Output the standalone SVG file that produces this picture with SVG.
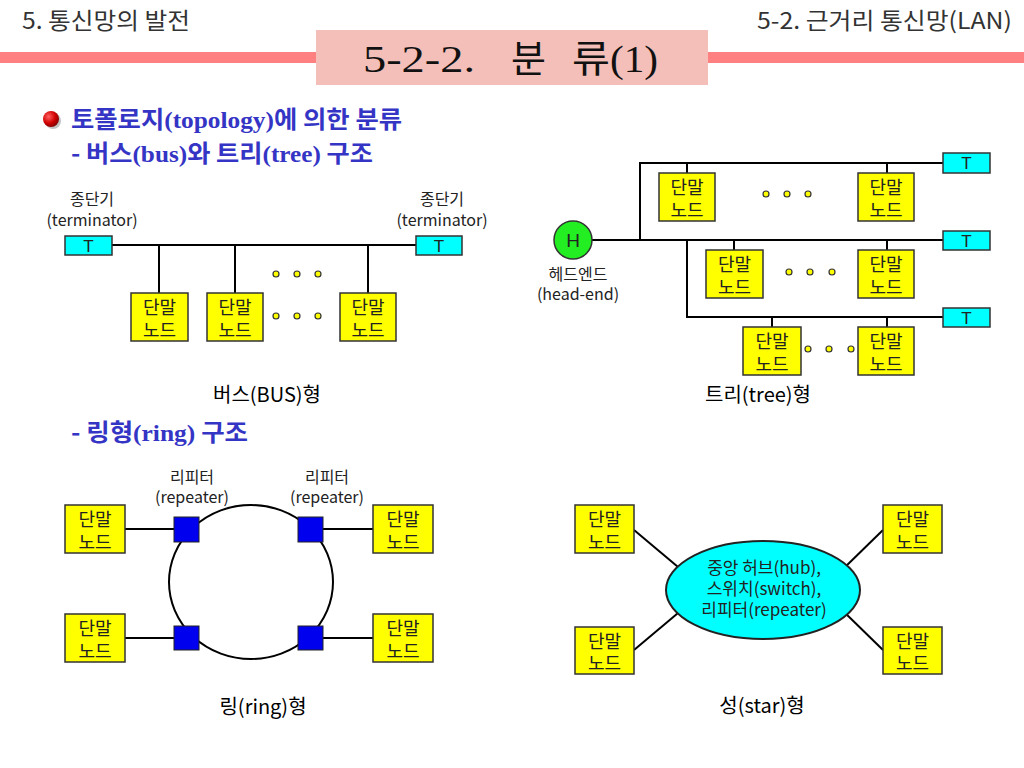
<svg xmlns="http://www.w3.org/2000/svg" width="1024" height="768" viewBox="0 0 1024 768">
<defs>
<style>
.hdr{font-family:"Noto Sans CJK KR","Liberation Sans",sans-serif;font-size:23px;fill:#333;}
.head{font-family:"Noto Sans CJK KR","Liberation Sans",sans-serif;font-size:24px;font-weight:bold;fill:#3535C5;}
.ser{font-family:"Liberation Serif","Noto Sans CJK KR",serif;font-weight:bold;}
.lbl{font-family:"Noto Sans CJK KR","Liberation Sans",sans-serif;font-size:16px;fill:#222;text-anchor:middle;}
.hub{font-family:"Noto Sans CJK KR","Liberation Sans",sans-serif;font-size:17px;fill:#222;text-anchor:middle;}
.cap{font-family:"Noto Sans CJK KR","Liberation Sans",sans-serif;font-size:20px;fill:#000;text-anchor:middle;}
.nt{font-family:"Noto Sans CJK KR","Liberation Sans",sans-serif;font-size:18px;fill:#222;text-anchor:middle;}
.node{fill:#FFFF00;stroke:#333;stroke-width:1.5;}
.term{fill:#00FFFF;stroke:#333;stroke-width:1.5;}
.tt{font-family:"Liberation Sans","Noto Sans",sans-serif;font-size:17px;fill:#222;text-anchor:middle;}
.ht{font-family:"Liberation Sans","Noto Sans",sans-serif;font-size:19px;fill:#222;text-anchor:middle;}
.ln{stroke:#000;stroke-width:2;fill:none;}
.dot{fill:#FFFF00;stroke:#333;stroke-width:1.2;}
.rep{fill:#0000EE;stroke:#222;stroke-width:1;}
.ttl{font-family:"Liberation Serif","Noto Sans CJK KR",serif;font-size:38px;fill:#111;}
</style>
<radialGradient id="ball" cx="0.35" cy="0.35" r="0.7">
<stop offset="0" stop-color="#FF6060"/>
<stop offset="0.6" stop-color="#D00000"/>
<stop offset="1" stop-color="#800000"/>
</radialGradient>
</defs>
<rect width="1024" height="768" fill="#fff"/>

<g id="header">
<text class="hdr" x="22" y="29" textLength="168" lengthAdjust="spacingAndGlyphs">5. 통신망의 발전</text>
<text class="hdr" x="1012" y="29" text-anchor="end" textLength="255" lengthAdjust="spacingAndGlyphs">5-2. 근거리 통신망(LAN)</text>
<rect x="0" y="52" width="316" height="11" fill="#FF8080"/>
<rect x="708" y="52" width="316" height="11" fill="#FF8080"/>
<rect x="316" y="30" width="392" height="55" fill="#F3BFB8"/>
<text class="ttl" y="72"><tspan x="363" textLength="112" lengthAdjust="spacingAndGlyphs">5-2-2.</tspan> <tspan x="511">분</tspan> <tspan x="572" textLength="86" lengthAdjust="spacingAndGlyphs">류(1)</tspan></text>
</g>

<g id="headings">
<circle cx="53" cy="121" r="8" fill="#999" opacity="0.6"/>
<circle cx="51" cy="119" r="8" fill="url(#ball)"/>
<text class="head" x="71" y="128" textLength="331" lengthAdjust="spacingAndGlyphs">토폴로지<tspan class="ser">(topology)</tspan>에 의한 분류</text>
<text class="head" x="71" y="162" textLength="302" lengthAdjust="spacingAndGlyphs">- 버스<tspan class="ser">(bus)</tspan>와 트리<tspan class="ser">(tree)</tspan> 구조</text>
<text class="head" x="71" y="441" textLength="177" lengthAdjust="spacingAndGlyphs">- 링형<tspan class="ser">(ring)</tspan> 구조</text>
</g>

<g id="connectors">
<!-- bus -->
<line class="ln" x1="112" y1="245" x2="416" y2="245"/>
<line class="ln" x1="159" y1="245" x2="159" y2="293"/>
<line class="ln" x1="235" y1="245" x2="235" y2="293"/>
<line class="ln" x1="368" y1="245" x2="368" y2="293"/>
<!-- tree -->
<line class="ln" x1="592" y1="240" x2="943" y2="240"/>
<polyline class="ln" points="640,240 640,163 943,163"/>
<polyline class="ln" points="687,240 687,317 943,317"/>
<line class="ln" x1="687" y1="163" x2="687" y2="173"/>
<line class="ln" x1="887" y1="163" x2="887" y2="173"/>
<line class="ln" x1="734" y1="240" x2="734" y2="250"/>
<line class="ln" x1="887" y1="240" x2="887" y2="250"/>
<line class="ln" x1="772" y1="317" x2="772" y2="327"/>
<line class="ln" x1="887" y1="317" x2="887" y2="327"/>
<!-- ring -->
<ellipse class="ln" cx="251" cy="582" rx="82" ry="77"/>
<line class="ln" x1="125" y1="529" x2="174" y2="529"/>
<line class="ln" x1="125" y1="638" x2="174" y2="638"/>
<line class="ln" x1="323" y1="529" x2="373" y2="529"/>
<line class="ln" x1="323" y1="638" x2="373" y2="638"/>
<!-- star -->
<line class="ln" x1="634" y1="530" x2="684" y2="572"/>
<line class="ln" x1="634" y1="650" x2="684" y2="608"/>
<line class="ln" x1="883" y1="530" x2="842" y2="570"/>
<line class="ln" x1="883" y1="650" x2="842" y2="610"/>
</g>

<g id="bus">
<text class="lbl" x="92" y="205">종단기</text>
<text class="lbl" x="92" y="226">(terminator)</text>
<text class="lbl" x="442" y="205">종단기</text>
<text class="lbl" x="442" y="226">(terminator)</text>
<g id="bus-t1"><rect class="term" x="65" y="236" width="47" height="19"/><text class="tt" x="88.5" y="252">T</text></g>
<g id="bus-t2"><rect class="term" x="416" y="236" width="46" height="19"/><text class="tt" x="439" y="252">T</text></g>
<g id="bus-n1"><rect class="node" x="131" y="293" width="57" height="48"/><text class="nt" x="159.5" y="314">단말</text><text class="nt" x="159.5" y="337">노드</text></g>
<g id="bus-n2"><rect class="node" x="207" y="293" width="56" height="48"/><text class="nt" x="235" y="314">단말</text><text class="nt" x="235" y="337">노드</text></g>
<g id="bus-n3"><rect class="node" x="340" y="293" width="56" height="48"/><text class="nt" x="368" y="314">단말</text><text class="nt" x="368" y="337">노드</text></g>
<circle class="dot" cx="276" cy="274" r="3"/><circle class="dot" cx="297" cy="274" r="3"/><circle class="dot" cx="318" cy="274" r="3"/>
<circle class="dot" cx="276" cy="316" r="3"/><circle class="dot" cx="297" cy="316" r="3"/><circle class="dot" cx="318" cy="316" r="3"/>
<text class="cap" x="267" y="402">버스(BUS)형</text>
</g>

<g id="tree">
<g id="tree-h"><circle cx="573" cy="240" r="19" fill="#22EE22" stroke="#333" stroke-width="1.5"/><text class="ht" x="573" y="247">H</text></g>
<text class="lbl" x="578" y="280">헤드엔드</text>
<text class="lbl" x="578" y="300">(head-end)</text>
<g id="tree-t1"><rect class="term" x="943" y="153" width="47" height="20"/><text class="tt" x="966.5" y="169">T</text></g>
<g id="tree-t2"><rect class="term" x="943" y="231" width="47" height="19"/><text class="tt" x="966.5" y="247">T</text></g>
<g id="tree-t3"><rect class="term" x="943" y="308" width="47" height="19"/><text class="tt" x="966.5" y="324">T</text></g>
<g id="tree-n11"><rect class="node" x="659" y="173" width="56" height="48"/><text class="nt" x="687" y="194">단말</text><text class="nt" x="687" y="217">노드</text></g>
<g id="tree-n12"><rect class="node" x="858" y="173" width="56" height="48"/><text class="nt" x="886" y="194">단말</text><text class="nt" x="886" y="217">노드</text></g>
<g id="tree-n21"><rect class="node" x="706" y="250" width="57" height="48"/><text class="nt" x="734.5" y="271">단말</text><text class="nt" x="734.5" y="294">노드</text></g>
<g id="tree-n22"><rect class="node" x="858" y="250" width="56" height="48"/><text class="nt" x="886" y="271">단말</text><text class="nt" x="886" y="294">노드</text></g>
<g id="tree-n31"><rect class="node" x="743" y="327" width="58" height="48"/><text class="nt" x="772" y="348">단말</text><text class="nt" x="772" y="371">노드</text></g>
<g id="tree-n32"><rect class="node" x="858" y="327" width="56" height="48"/><text class="nt" x="886" y="348">단말</text><text class="nt" x="886" y="371">노드</text></g>
<circle class="dot" cx="766" cy="194" r="3"/><circle class="dot" cx="787" cy="194" r="3"/><circle class="dot" cx="808" cy="194" r="3"/>
<circle class="dot" cx="789" cy="272" r="3"/><circle class="dot" cx="810" cy="272" r="3"/><circle class="dot" cx="832" cy="272" r="3"/>
<circle class="dot" cx="808" cy="349" r="3"/><circle class="dot" cx="829" cy="349" r="3"/><circle class="dot" cx="851" cy="349" r="3"/>
<text class="cap" x="758" y="402">트리(tree)형</text>
</g>

<g id="ring">
<text class="lbl" x="192" y="483">리피터</text>
<text class="lbl" x="192" y="503">(repeater)</text>
<text class="lbl" x="327" y="483">리피터</text>
<text class="lbl" x="327" y="503">(repeater)</text>
<rect class="rep" x="174" y="517" width="25" height="25"/>
<rect class="rep" x="298" y="517" width="25" height="25"/>
<rect class="rep" x="174" y="626" width="25" height="24"/>
<rect class="rep" x="298" y="626" width="25" height="24"/>
<g id="ring-n1"><rect class="node" x="65" y="505" width="60" height="48"/><text class="nt" x="95" y="526">단말</text><text class="nt" x="95" y="549">노드</text></g>
<g id="ring-n2"><rect class="node" x="65" y="614" width="60" height="48"/><text class="nt" x="95" y="635">단말</text><text class="nt" x="95" y="658">노드</text></g>
<g id="ring-n3"><rect class="node" x="373" y="505" width="60" height="48"/><text class="nt" x="403" y="526">단말</text><text class="nt" x="403" y="549">노드</text></g>
<g id="ring-n4"><rect class="node" x="373" y="614" width="60" height="48"/><text class="nt" x="403" y="635">단말</text><text class="nt" x="403" y="658">노드</text></g>
<text class="cap" x="263" y="714">링(ring)형</text>
</g>

<g id="star">
<g id="star-hub"><ellipse cx="763" cy="590" rx="97" ry="49" fill="#00FFFF" stroke="#222" stroke-width="2"/>
<text class="hub" x="764" y="574">중앙 허브(hub),</text>
<text class="hub" x="764" y="595">스위치(switch),</text>
<text class="hub" x="764" y="616">리피터(repeater)</text></g>
<g id="star-n1"><rect class="node" x="575" y="505" width="59" height="48"/><text class="nt" x="604.5" y="526">단말</text><text class="nt" x="604.5" y="549">노드</text></g>
<g id="star-n2"><rect class="node" x="575" y="627" width="59" height="47"/><text class="nt" x="604.5" y="648">단말</text><text class="nt" x="604.5" y="670">노드</text></g>
<g id="star-n3"><rect class="node" x="883" y="505" width="59" height="48"/><text class="nt" x="912.5" y="526">단말</text><text class="nt" x="912.5" y="549">노드</text></g>
<g id="star-n4"><rect class="node" x="883" y="627" width="59" height="47"/><text class="nt" x="912.5" y="648">단말</text><text class="nt" x="912.5" y="670">노드</text></g>
<text class="cap" x="762" y="713">성(star)형</text>
</g>
</svg>
